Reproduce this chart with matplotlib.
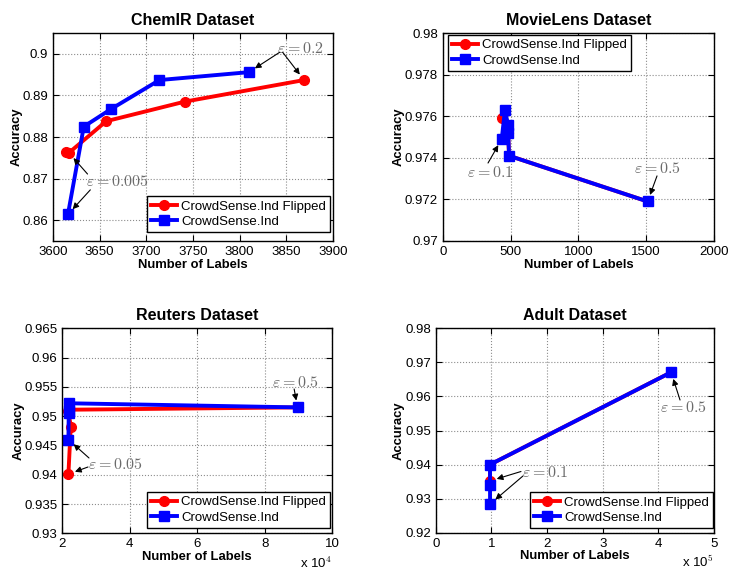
import matplotlib
matplotlib.use("Agg")
import matplotlib.pyplot as plt
from matplotlib.ticker import FuncFormatter

plt.rcParams['font.family'] = ['Liberation Sans', 'DejaVu Sans']
plt.rcParams['mathtext.fontset'] = 'cm'

# ---------------- data ----------------
labels = ["CrowdSense.Ind Flipped", "CrowdSense.Ind"]

chem_red_x = [3614, 3617, 3657, 3741, 3869]
chem_red_y = [0.8763, 0.8762, 0.8838, 0.8885, 0.8937]
chem_blue_x = [3616, 3633, 3662, 3714, 3810]
chem_blue_y = [0.8614, 0.8825, 0.8867, 0.8937, 0.8956]

movie_red_x = [435, 479, 482, 489, 1511]
movie_red_y = [0.9759, 0.9752, 0.9752, 0.9741, 0.9719]
movie_blue_x = [435, 459, 481, 483, 489, 1511]
movie_blue_y = [0.9749, 0.9763, 0.9756, 0.9752, 0.9741, 0.9719]

reut_red_x = [21800, 22500, 21800, 21900, 89700]
reut_red_y = [0.9401, 0.9482, 0.9509, 0.9511, 0.9515]
reut_blue_x = [21800, 21900, 21900, 22000, 89700]
reut_blue_y = [0.9460, 0.9506, 0.9508, 0.9522, 0.9515]

adult_red_x = [97600, 97600, 423000]
adult_red_y = [0.9352, 0.9400, 0.9671]
adult_blue_x = [97600, 97600, 97600, 423000]
adult_blue_y = [0.9284, 0.9340, 0.9400, 0.9671]

RED = (1, 0, 0)
BLUE = (0, 0, 1)
TXT_GRAY = (0.42, 0.42, 0.42)

fig = plt.figure(figsize=(7.29, 5.70), dpi=100)

positions = {
    'chem': [0.0727, 0.5772, 0.4568 - 0.0727, 0.942 - 0.5772],
    'movie': [0.6073, 0.5772, 0.9794 - 0.6073, 0.942 - 0.5772],
    'reut': [0.0855, 0.0644, 0.4558 - 0.0855, 0.424 - 0.0644],
    'adult': [0.5977, 0.0654, 0.9794 - 0.5977, 0.424 - 0.0654],
}


def style(ax, title):
    ax.set_title(title, fontsize=11.5, fontweight='bold', pad=6)
    ax.set_xlabel("Number of Labels", fontsize=9.4, fontweight='bold', labelpad=0.5)
    ax.set_ylabel("Accuracy", fontsize=9.4, fontweight='bold', labelpad=0)
    ax.tick_params(direction='in', top=True, right=True, length=4, labelsize=9.5, width=0.8)
    ax.grid(True, linestyle=':', color=(0.55, 0.55, 0.55), linewidth=0.8)
    for s in ax.spines.values():
        s.set_linewidth(1.0)


def plot_series(ax, rx, ry, bx, by):
    ax.plot(rx, ry, '-o', color=RED, lw=2.8, ms=7, mfc=RED, mec=RED, label=labels[0])
    ax.plot(bx, by, '-s', color=BLUE, lw=2.8, ms=6.5, mfc=BLUE, mec=BLUE, label=labels[1])


def legend(ax, loc, anchor):
    lg = ax.legend(loc=loc, bbox_to_anchor=anchor, borderaxespad=0, fontsize=9.5,
                   frameon=True, fancybox=False, edgecolor='black', framealpha=1,
                   labelspacing=0.25, borderpad=0.3, handlelength=2.0, handletextpad=0.3)
    lg.get_frame().set_linewidth(1.0)


def eps_label(ax, text, pos):
    ax.text(pos[0], pos[1], text, fontsize=11.5, color=TXT_GRAY, ha='center', va='center')


def arrow(ax, head, tail):
    ax.annotate('', xy=head, xytext=tail,
                arrowprops=dict(arrowstyle='-|>', color='black', lw=0.8,
                                mutation_scale=9, shrinkA=0, shrinkB=5))


# ---------------- ChemIR ----------------
ax = fig.add_axes(positions['chem'])
plot_series(ax, chem_red_x, chem_red_y, chem_blue_x, chem_blue_y)
ax.set_xlim(3600, 3900)
ax.set_ylim(0.855, 0.905)
ax.set_xticks([3600, 3650, 3700, 3750, 3800, 3850, 3900])
ax.set_yticks([0.86, 0.87, 0.88, 0.89, 0.9])
ax.set_yticklabels(['0.86', '0.87', '0.88', '0.89', '0.9'])
style(ax, "ChemIR Dataset")
legend(ax, 'lower right', (0.99, 0.043))
eps_label(ax, r'$\varepsilon = 0.2$', (3865, 0.9012))
arrow(ax, (chem_blue_x[-1], chem_blue_y[-1]), (3843, 0.9004))
arrow(ax, (chem_red_x[-1], chem_red_y[-1]), (3846, 0.9004))
eps_label(ax, r'$\varepsilon = 0.005$', (3669, 0.8692))
arrow(ax, (chem_red_x[1], chem_red_y[1]), (3637, 0.8711))
arrow(ax, (chem_blue_x[0], chem_blue_y[0]), (3640, 0.8673))

# ---------------- MovieLens ----------------
ax = fig.add_axes(positions['movie'])
plot_series(ax, movie_red_x, movie_red_y, movie_blue_x, movie_blue_y)
ax.set_xlim(0, 2000)
ax.set_ylim(0.97, 0.98)
ax.set_xticks([0, 500, 1000, 1500, 2000])
ax.set_yticks([0.97, 0.972, 0.974, 0.976, 0.978, 0.98])
ax.set_yticklabels(['0.97', '0.972', '0.974', '0.976', '0.978', '0.98'])
style(ax, "MovieLens Dataset")
legend(ax, 'upper left', (0.02, 0.99))
eps_label(ax, r'$\varepsilon = 0.1$', (349, 0.9733))
arrow(ax, (movie_blue_x[0], movie_blue_y[0]), (334, 0.97375))
eps_label(ax, r'$\varepsilon = 0.5$', (1580, 0.9735))
arrow(ax, (movie_blue_x[-1], movie_blue_y[-1]), (1580, 0.97313))

# ---------------- Reuters ----------------
ax = fig.add_axes(positions['reut'])
plot_series(ax, reut_red_x, reut_red_y, reut_blue_x, reut_blue_y)
ax.set_xlim(20000, 100000)
ax.set_ylim(0.93, 0.965)
ax.set_xticks([20000, 40000, 60000, 80000, 100000])
ax.xaxis.set_major_formatter(FuncFormatter(lambda v, p: f"{v/1e4:g}"))
ax.set_yticks([0.93, 0.935, 0.94, 0.945, 0.95, 0.955, 0.96, 0.965])
ax.set_yticklabels(['0.93', '0.935', '0.94', '0.945', '0.95', '0.955', '0.96', '0.965'])
style(ax, "Reuters Dataset")
legend(ax, 'lower right', (0.991, 0.026))
ax.text(1.0, -0.145, r'x 10$^4$', transform=ax.transAxes, ha='right', va='center', fontsize=9.5)
eps_label(ax, r'$\varepsilon = 0.05$', (35900, 0.9418))
arrow(ax, (reut_blue_x[0], reut_blue_y[0]), (27900, 0.94286))
arrow(ax, (reut_red_x[0], reut_red_y[0]), (27600, 0.94132))
eps_label(ax, r'$\varepsilon = 0.5$', (89000, 0.9557))
arrow(ax, (reut_blue_x[-1], reut_blue_y[-1]), (88700, 0.95464))

# ---------------- Adult ----------------
ax = fig.add_axes(positions['adult'])
plot_series(ax, adult_red_x, adult_red_y, adult_blue_x, adult_blue_y)
ax.set_xlim(0, 500000)
ax.set_ylim(0.92, 0.98)
ax.set_xticks([0, 100000, 200000, 300000, 400000, 500000])
ax.xaxis.set_major_formatter(FuncFormatter(lambda v, p: f"{v/1e5:g}"))
ax.set_yticks([0.92, 0.93, 0.94, 0.95, 0.96, 0.97, 0.98])
ax.set_yticklabels(['0.92', '0.93', '0.94', '0.95', '0.96', '0.97', '0.98'])
style(ax, "Adult Dataset")
legend(ax, 'lower right', (0.9964, 0.023))
ax.text(1.0, -0.145, r'x 10$^5$', transform=ax.transAxes, ha='right', va='center', fontsize=9.5)
eps_label(ax, r'$\varepsilon = 0.1$', (196400, 0.9376))
arrow(ax, (adult_red_x[0], adult_red_y[0]), (153200, 0.93797))
arrow(ax, (adult_blue_x[0], adult_blue_y[0]), (156800, 0.93666))
eps_label(ax, r'$\varepsilon = 0.5$', (444600, 0.9569))
arrow(ax, (adult_blue_x[-1], adult_blue_y[-1]), (439000, 0.95895))

fig.savefig("out.png", dpi=100)
